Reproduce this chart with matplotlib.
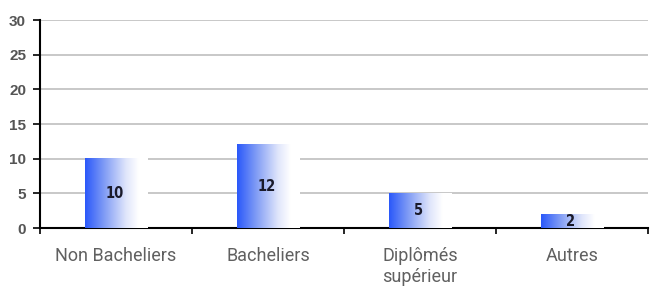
import numpy as np
import matplotlib
matplotlib.use("Agg")
import matplotlib.pyplot as plt
from matplotlib.colors import LinearSegmentedColormap

categories = ["Non Bacheliers", "Bacheliers", "Diplômés\nsupérieur", "Autres"]
values = [10, 12, 5, 2]
yticks = [0, 5, 10, 15, 20, 25, 30]

fig = plt.figure(figsize=(6.51, 2.87), dpi=100)
ax = fig.add_axes([40 / 651, 1 - 228 / 287, 608 / 651, 208 / 287])

# blue -> white gradient used for each bar
cmap = LinearSegmentedColormap.from_list(
    "bar", [(0.0, "#2a58fa"), (0.3, "#7f9bf5"), (0.65, "#dfe5fb"),
            (0.85, "#ffffff"), (1.0, "#ffffff")])
grad = np.linspace(0, 1, 256).reshape(1, -1)

x = np.arange(len(categories))
width = 0.41

for xi, v in zip(x, values):
    ax.imshow(grad, cmap=cmap, aspect="auto", interpolation="bilinear",
              extent=(xi - width / 2, xi + width / 2, 0, v), zorder=3)
    ax.text(xi - 0.01, v / 2, str(v), ha="center", va="center", fontsize=10.5,
            fontweight="bold", fontstretch="condensed", color="#1a1a2a",
            family="DejaVu Sans", zorder=4)

for y in yticks[1:]:
    ax.axhline(y, color="#c4c4c4", linewidth=1.3, zorder=1)

ax.set_xlim(-0.5, len(categories) - 0.5)
ax.set_ylim(0, 30)
ax.set_yticks(yticks)
ax.set_yticklabels([str(t) for t in yticks], fontsize=11, fontweight="bold",
                   color="#555555", family="Liberation Sans")

ax.set_xticks(np.arange(len(categories) + 1) - 0.5)
ax.set_xticklabels([])
ax.set_xticks(x, minor=True)
ax.set_xticklabels(categories, minor=True, fontsize=13, color="#606060",
                   family="Roboto", linespacing=1.2)
ax.tick_params(axis="x", which="minor", length=0, pad=14)
ax.tick_params(axis="x", which="major", length=4, width=1.2, color="black",
               direction="out")
ax.tick_params(axis="y", length=5, width=1.2, color="black", pad=5)

for side in ["top", "right"]:
    ax.spines[side].set_visible(False)
for side in ["left", "bottom"]:
    ax.spines[side].set_linewidth(1.5)
    ax.spines[side].set_color("black")

fig.savefig("out.png", dpi=100)
